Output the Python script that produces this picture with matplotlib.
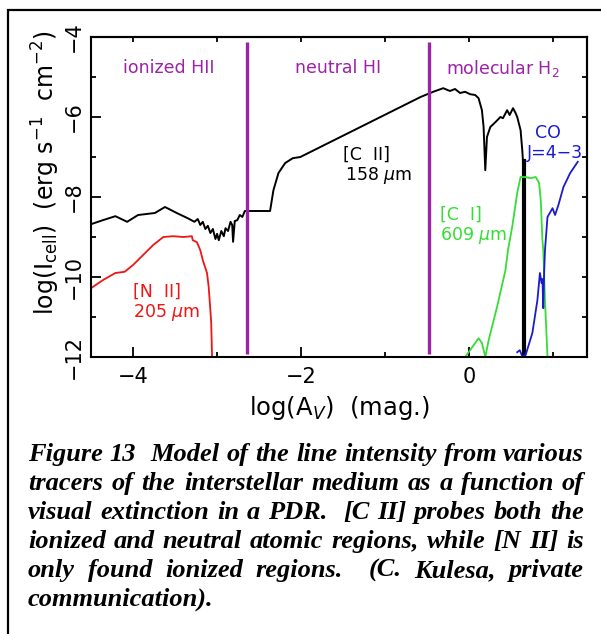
import matplotlib
matplotlib.use("Agg")
import matplotlib.pyplot as plt
from matplotlib.patches import Rectangle

# ---------------- data ----------------
cii_x = [-4.5, -4.36, -4.21, -4.07, -3.94, -3.74, -3.62, -3.48, -3.35, -3.27, -3.23, -3.2, -3.17,
         -3.14, -3.11, -3.08, -3.05, -3.02, -3.0, -2.98, -2.95, -2.92, -2.9, -2.87, -2.84, -2.82,
         -2.81, -2.79, -2.76, -2.73, -2.7, -2.67, -2.6, -2.37, -2.33, -2.27, -2.19, -2.1, -2.01,
         -0.58, -0.43, -0.31, -0.23, -0.17, -0.11, -0.05, 0.01, 0.07, 0.11, 0.15, 0.17, 0.19,
         0.21, 0.25, 0.31, 0.37, 0.40, 0.45, 0.48, 0.52, 0.55, 0.57, 0.61, 0.63, 0.64, 0.65]
cii_y = [-8.68, -8.58, -8.48, -8.62, -8.45, -8.4, -8.25, -8.4, -8.53, -8.62, -8.55, -8.7, -8.62,
         -8.8, -8.72, -8.9, -8.8, -9.05, -8.92, -9.08, -8.85, -8.98, -8.78, -8.85, -8.62, -8.7,
         -9.12, -8.6, -8.58, -8.45, -8.5, -8.35, -8.35, -8.35, -7.83, -7.4, -7.15, -7.03, -7.0,
         -5.5, -5.37, -5.28, -5.35, -5.3, -5.4, -5.37, -5.43, -5.45, -5.53, -5.83, -6.25, -7.33,
         -6.5, -6.25, -6.13, -6.0, -6.03, -5.83, -5.95, -5.78, -5.9, -6.0, -6.33, -6.83, -7.15, -12.0]
cii_drop_x = [0.65, 0.65]
cii_drop_y = [-7.1, -12.0]

nii_x = [-4.5, -4.36, -4.21, -4.1, -4.0, -3.88, -3.76, -3.64, -3.52, -3.4, -3.3, -3.29, -3.24,
         -3.2, -3.17, -3.12, -3.1, -3.08, -3.07, -3.06]
nii_y = [-10.28, -10.08, -9.9, -9.87, -9.7, -9.45, -9.2, -9.0, -8.98, -9.0, -8.98, -9.08, -9.13,
         -9.33, -9.58, -9.9, -10.25, -10.83, -11.15, -12.0]

ci_x = [-0.05, 0.01, 0.11, 0.15, 0.19, 0.23, 0.33, 0.43, 0.46, 0.51, 0.57, 0.61, 0.67, 0.73,
        0.79, 0.83, 0.85, 0.87, 0.88, 0.9, 0.93]
ci_y = [-12.0, -11.83, -11.53, -11.65, -12.0, -11.58, -10.75, -9.83, -9.33, -8.75, -7.9, -7.5,
        -7.5, -7.53, -7.5, -7.65, -8.08, -9.08, -9.33, -10.58, -12.0]

co_x = [0.57, 0.6, 0.63, 0.67, 0.75, 0.81, 0.84, 0.86, 0.87, 0.88, 0.89, 0.9, 0.93, 0.99, 1.02,
        1.06, 1.12, 1.2, 1.29]
co_y = [-11.88, -11.83, -11.98, -11.95, -11.4, -10.58, -9.9, -10.15, -10.05, -10.78, -9.9, -9.33,
        -8.5, -8.28, -8.45, -8.2, -7.75, -7.4, -7.12]

boundaries = [-2.65, -0.48]
region_names = ["ionized HII", "neutral HI", "molecular H$_2$"]
region_x = [-3.58, -1.56, 0.40]

x_major = [-4, -2, 0]
x_minor = [-3, -1, 1]
y_major = [-12, -10, -8, -6, -4]
y_minor = [-11, -9, -7, -5]

caption_lines = [
    "Figure 13  Model of the line intensity from various",
    "tracers of the interstellar medium as a function of",
    "visual extinction in a PDR.  [C II] probes both the",
    "ionized and neutral atomic regions, while [N II] is",
    "only found ionized regions.  (C. Kulesa, private",
    "communication).",
]

# ---------------- figure ----------------
W, H = 601, 634
fig = plt.figure(figsize=(W / 100, H / 100), dpi=100)
plt.rcParams['font.family'] = ['DejaVu Sans']

PURPLE = '#9c22a6'
RED = '#ee1515'
GREEN = '#35dd35'
BLUE = '#1a1ad0'

ax = fig.add_axes([91 / W, 1 - 357 / H, (587 - 91) / W, (357 - 37) / H])
ax.set_xlim(-4.5, 1.4)
ax.set_ylim(-12, -4)

ax.plot(cii_x, cii_y, color='black', lw=1.4)
ax.plot(cii_drop_x, cii_drop_y, color='black', lw=3.0)
ax.plot(nii_x, nii_y, color=RED, lw=1.3)
ax.plot(ci_x, ci_y, color=GREEN, lw=1.3)
ax.plot(co_x, co_y, color=BLUE, lw=1.3)

for b in boundaries:
    ax.plot([b, b], [-11.92, -4.12], color=PURPLE, lw=2.4, solid_capstyle='butt')

for name, rx in zip(region_names, region_x):
    ax.text(rx, -4.78, name, color=PURPLE, fontsize=12.5, ha='center', va='center')

ax.text(-1.5, -6.95, "[C  II]", color='black', fontsize=12.5, ha='left', va='center')
ax.text(-1.48, -7.45, "158 $\\mu$m", color='black', fontsize=12.5, ha='left', va='center')
ax.text(-4.0, -10.375, "[N  II]", color=RED, fontsize=12.5, ha='left', va='center')
ax.text(-4.0, -10.875, "205 $\\mu$m", color=RED, fontsize=12.5, ha='left', va='center')
ax.text(-0.345, -8.45, "[C  I]", color=GREEN, fontsize=12.5, ha='left', va='center')
ax.text(-0.345, -8.95, "609 $\\mu$m", color=GREEN, fontsize=12.5, ha='left', va='center')
ax.text(0.94, -6.4, "CO", color=BLUE, fontsize=12.5, ha='center', va='center')
ax.text(1.02, -6.9, "J=4\u22123", color=BLUE, fontsize=12.5, ha='center', va='center')

ax.set_xticks(x_major)
ax.set_xticks(x_minor, minor=True)
ax.set_yticks(y_major)
ax.set_yticks(y_minor, minor=True)
ax.set_xticklabels([f"\u2212{abs(v)}" if v < 0 else str(v) for v in x_major])
ax.set_yticklabels([f"\u2212{abs(v)}" if v < 0 else str(v) for v in y_major],
                   rotation=90, va='center')
ax.tick_params(which='major', direction='in', length=7.2, width=1.3, labelsize=15,
               top=False, right=False, pad=7)
ax.tick_params(which='minor', direction='in', length=3.6, width=1.3, top=False, right=False)
ax.tick_params(axis='y', which='major', pad=5)
for s in ax.spines.values():
    s.set_linewidth(1.5)

secx = ax.secondary_xaxis('top')
secx.set_xticks(x_major + x_minor)
secx.tick_params(direction='in', length=3.6, width=1.3, labeltop=False)
secx.spines['top'].set_linewidth(1.5)
secy = ax.secondary_yaxis('right')
secy.set_yticks(y_major + y_minor)
secy.tick_params(direction='in', length=3.6, width=1.3, labelright=False)
secy.spines['right'].set_linewidth(1.5)

ax.set_xlabel("log(A$_V$)  (mag.)", fontsize=17.5, labelpad=5)
ax.set_ylabel("log(I$_{\\rm cell}$)  (erg s$^{-1}$  cm$^{-2}$)", fontsize=17)
ax.yaxis.set_label_coords(-0.058, 0.575)

# outer frame
fig.add_artist(Rectangle((8 / W, -0.1), 1.2, 1.1 - 10 / H, transform=fig.transFigure,
                         fill=False, edgecolor='black', lw=1.6))

# ---------------- caption (justified) ----------------
fig.canvas.draw()
renderer = fig.canvas.get_renderer()
cap_kw = dict(family='Liberation Serif', style='italic', weight='bold', fontsize=19.0,
              color='black')
x_left, x_right = 28, 584
baselines = [461, 490, 519, 548, 577, 606]


def width_px(s):
    t = fig.text(0, 0, s, **cap_kw)
    w = t.get_window_extent(renderer).width
    t.remove()
    return w


space_w = width_px("a a") - width_px("aa")
for i, (line, yb) in enumerate(zip(caption_lines, baselines)):
    parts = line.split(' ')
    words = []
    weights = []
    pending = 0
    for p in parts:
        if p == '':
            pending += 1
            continue
        if words:
            weights.append(1 + pending)
        pending = 0
        words.append(p)
    widths = [width_px(w) for w in words]
    if i < len(caption_lines) - 1 and len(words) > 1:
        unit = (x_right - x_left - sum(widths)) / sum(weights)
        unit = max(unit, 0.6 * space_w)
    else:
        unit = space_w
    x = x_left
    for j, (w, wd) in enumerate(zip(words, widths)):
        fig.text(x / W, 1 - yb / H, w, ha='left', va='baseline', **cap_kw)
        x += wd
        if j < len(weights):
            x += unit * weights[j]

fig.savefig("out.png", dpi=100)
